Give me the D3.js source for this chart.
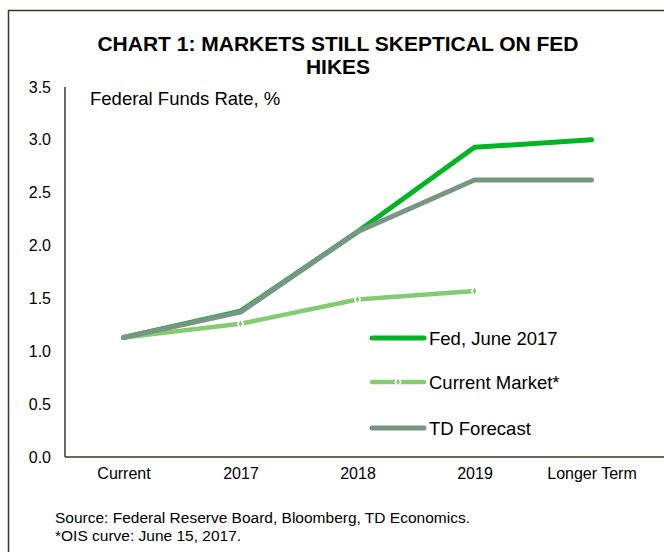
<!DOCTYPE html>
<html>
<head>
<meta charset="utf-8">
<script src="https://cdn.jsdelivr.net/npm/d3@7"></script>
<style>
  body { margin: 0; background: #fff; }
  text { font-family: "Liberation Sans", Arial, sans-serif; fill: #000; }
</style>
</head>
<body>
<div id="chart"></div>
<script>
var categories = ["Current", "2017", "2018", "2019", "Longer Term"];
var fedJune = [1.13, 1.38, 2.13, 2.93, 3.0];
var currentMarket = [1.13, 1.26, 1.49, 1.57, null];
var tdForecast = [1.13, 1.37, 2.13, 2.62, 2.62];
var yTicks = [0, 0.5, 1, 1.5, 2, 2.5, 3, 3.5];

var seriesList = [
    {name: "Fed, June 2017", values: fedJune, color: "#03b525", width: 5, marker: false},
    {name: "Current Market*", values: currentMarket, color: "#84cc72", width: 4.5, marker: true},
    {name: "TD Forecast", values: tdForecast, color: "#779684", width: 5, marker: false}
];

var width = 664, height = 552;
var svg = d3.select("#chart").append("svg")
    .attr("width", width)
    .attr("height", height);

// frame (cut off on right and bottom like the original)
svg.append("rect")
    .attr("x", 8.5).attr("y", 10.5)
    .attr("width", 700).attr("height", 600)
    .attr("fill", "none")
    .attr("stroke", "#2f3b2a")
    .attr("stroke-width", 1.5);

svg.append("text")
    .attr("x", 338).attr("y", 51)
    .attr("text-anchor", "middle")
    .style("font-size", "21px").style("font-weight", "bold")
    .text("CHART 1: MARKETS STILL SKEPTICAL ON FED");
svg.append("text")
    .attr("x", 338).attr("y", 74)
    .attr("text-anchor", "middle")
    .style("font-size", "21px").style("font-weight", "bold")
    .text("HIKES");

var x = d3.scalePoint().domain(categories).range([65, 650]).padding(0.5);
var y = d3.scaleLinear().domain([0, 3.5]).range([457, 87]);

// y axis
var yAxis = svg.append("g")
    .attr("transform", "translate(65,0)")
    .call(d3.axisLeft(y).tickValues(yTicks).tickSize(0).tickPadding(14).tickFormat(d3.format(".1f")));
yAxis.select(".domain").remove();
yAxis.selectAll("text").style("font-size", "16px").attr("font-family", null);

// x axis
var xAxis = svg.append("g")
    .attr("transform", "translate(0,457)")
    .call(d3.axisBottom(x).tickSize(0).tickPadding(11));
xAxis.select(".domain").remove();
xAxis.selectAll("text").style("font-size", "16px").attr("font-family", null);

svg.append("line")
    .attr("x1", 65).attr("x2", 664)
    .attr("y1", 457).attr("y2", 457)
    .attr("stroke", "#2f3b2a").attr("stroke-width", 1.5);
svg.append("line")
    .attr("x1", 65).attr("x2", 65)
    .attr("y1", 87).attr("y2", 457)
    .attr("stroke", "#2f3b2a").attr("stroke-width", 1.5);

svg.append("text")
    .attr("x", 90).attr("y", 105)
    .style("font-size", "18.5px")
    .text("Federal Funds Rate, %");

var line = d3.line()
    .defined(function(d) { return d != null; })
    .x(function(d, i) { return x(categories[i]); })
    .y(function(d) { return y(d); });

var diamond = d3.symbol().type(d3.symbolDiamond).size(28);

seriesList.forEach(function(s) {
    svg.append("path")
        .datum(s.values)
        .attr("d", line)
        .attr("fill", "none")
        .attr("stroke", s.color)
        .attr("stroke-width", s.width)
        .attr("stroke-linecap", "round")
        .attr("stroke-linejoin", "round");
    if (s.marker) {
        s.values.forEach(function(v, i) {
            if (v == null || i === 0) return;
            svg.append("path")
                .attr("d", diamond)
                .attr("transform", "translate(" + x(categories[i]) + "," + y(v) + ")")
                .attr("fill", s.color)
                .attr("stroke", "#fff")
                .attr("stroke-width", 1.5);
        });
    }
});

// legend
var legendY = [338, 382, 428];
seriesList.forEach(function(s, i) {
    var g = svg.append("g").attr("transform", "translate(0," + legendY[i] + ")");
    g.append("line")
        .attr("x1", 372).attr("x2", 424)
        .attr("stroke", s.color)
        .attr("stroke-width", s.width)
        .attr("stroke-linecap", "round");
    if (s.marker) {
        g.append("path")
            .attr("d", diamond)
            .attr("transform", "translate(398,0)")
            .attr("fill", s.color)
            .attr("stroke", "#fff")
            .attr("stroke-width", 1.5);
    }
    g.append("text")
        .attr("x", 429).attr("y", 7)
        .style("font-size", "18.5px")
        .text(s.name);
});

svg.append("text")
    .attr("x", 55).attr("y", 523)
    .style("font-size", "15.5px")
    .text("Source: Federal Reserve Board, Bloomberg, TD Economics.");
svg.append("text")
    .attr("x", 55).attr("y", 541)
    .style("font-size", "15.5px")
    .text("*OIS curve: June 15, 2017.");
</script>
</body>
</html>
